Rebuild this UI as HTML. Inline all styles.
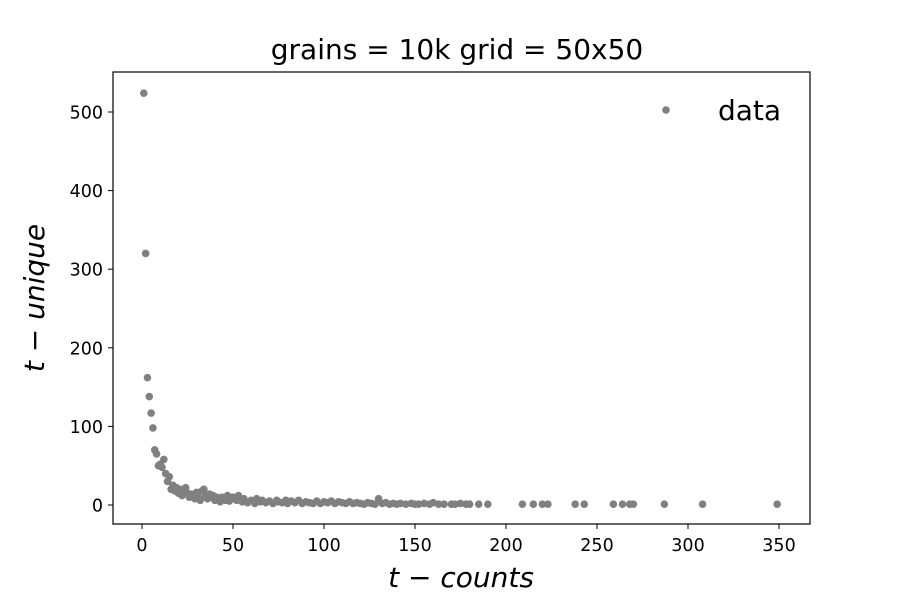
<!DOCTYPE html>
<html><head><meta charset="utf-8"><style>
body{margin:0;background:#fff}
svg text{font-family:"DejaVu Sans","Liberation Sans",sans-serif;fill:#000}
</style></head><body>
<svg id="chart" width="900" height="600" viewBox="0 0 900 600">
<rect x="0" y="0" width="900" height="600" fill="#fff"/>
<text x="457" y="59" font-size="28" text-anchor="middle">grains = 10k grid = 50x50</text>
<g id="points"></g>
<rect x="113" y="72" width="697" height="452" fill="none" stroke="#000" stroke-width="1.2"/>
<g id="xticks"></g>
<g id="yticks"></g>
<text x="461" y="587" font-size="28" font-style="italic" text-anchor="middle">t − counts</text>
<text transform="translate(44,298) rotate(-90)" font-size="28" font-style="italic" text-anchor="middle">t − unique</text>
<g>
<circle cx="666" cy="110" r="3.8" fill="#808080"/>
<text x="718" y="120" font-size="28">data</text>
</g>
</svg>
<script>
const xs=[1,2,3,4,5,6,7,8,9,10,11,12,13,14,15,16,17,18,19,20,21,22,23,24,25,26,27,28,29,30,31,32,33,34,35,36,37,38,39,40,41,42,43,44,45,46,47,48,49,50,52,53,55,56,58,60,62,63,65,66,68,70,72,74,75,77,79,80,82,84,86,88,90,92,94,96,98,100,102,104,106,108,110,112,114,116,118,120,122,124,126,128,130,132,134,136,138,140,142,145,148,150,152,155,158,160,163,166,170,172,175,178,180,185,190,209,215,220,223,238,243,259,264,268,270,287,308,349];
const ys=[524,320,162,138,117,98,70,65,50,52,48,58,40,30,36,20,25,18,22,15,20,12,18,22,15,10,14,12,8,16,10,6,18,20,12,8,14,10,12,6,10,8,4,10,8,6,12,5,8,10,6,12,4,8,3,6,2,8,4,6,3,5,2,6,4,3,6,2,5,3,6,2,4,3,2,5,2,4,3,5,2,4,3,2,4,2,3,2,1,3,2,1,8,2,3,1,2,1,2,1,2,1,1,2,1,3,1,1,1,1,2,1,1,1,1,1,1,1,1,1,1,1,1,1,1,1,1,1];
const xTicks=[0,50,100,150,200,250,300,350];
const yTicks=[0,100,200,300,400,500];
const NS='http://www.w3.org/2000/svg';
function sx(v){return 142+v*1.82;}
function sy(v){return 505-v*0.786;}
const pg=document.getElementById('points');
for(let i=0;i<xs.length;i++){
 const c=document.createElementNS(NS,'circle');
 c.setAttribute('cx',sx(xs[i]));c.setAttribute('cy',sy(ys[i]));c.setAttribute('r',3.8);c.setAttribute('fill','#808080');
 
 
 pg.appendChild(c);
}
const xg=document.getElementById('xticks');
xTicks.forEach(t=>{
 const l=document.createElementNS(NS,'line');
 l.setAttribute('x1',sx(t));l.setAttribute('x2',sx(t));l.setAttribute('y1',524);l.setAttribute('y2',529);l.setAttribute('stroke','#000');
 
 
 xg.appendChild(l);
 const tx=document.createElementNS(NS,'text');
 tx.setAttribute('x',sx(t));tx.setAttribute('y',551);tx.setAttribute('font-size','17.5');tx.setAttribute('text-anchor','middle');tx.textContent=t;
 
 
 xg.appendChild(tx);
});
const yg=document.getElementById('yticks');
yTicks.forEach(t=>{
 const l=document.createElementNS(NS,'line');
 l.setAttribute('x1',108);l.setAttribute('x2',113);l.setAttribute('y1',sy(t));l.setAttribute('y2',sy(t));l.setAttribute('stroke','#000');
 
 
 yg.appendChild(l);
 const tx=document.createElementNS(NS,'text');
 tx.setAttribute('x',103);tx.setAttribute('y',sy(t)+6.5);tx.setAttribute('font-size','17.5');tx.setAttribute('text-anchor','end');tx.textContent=t;
 
 
 yg.appendChild(tx);
});
</script>
</body></html>
